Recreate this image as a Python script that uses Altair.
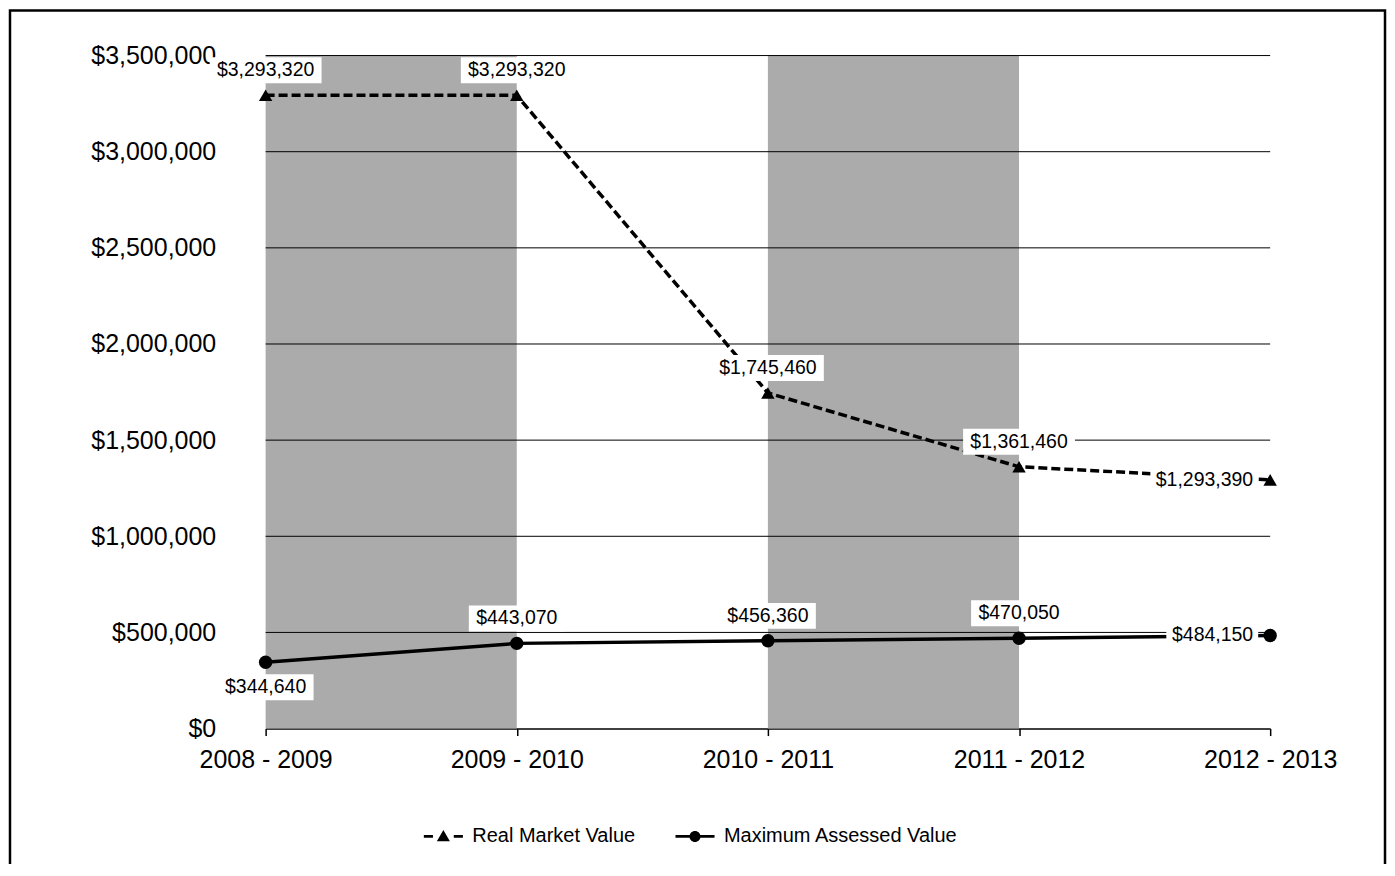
import json
import altair as alt
import pandas as pd

# ---------------- data ----------------
years = ["2008 - 2009", "2009 - 2010", "2010 - 2011", "2011 - 2012", "2012 - 2013"]
real_market = [3293320, 3293320, 1745460, 1361460, 1293390]
max_assessed = [344640, 443070, 456360, 470050, 484150]
y_ticks = [0, 500000, 1000000, 1500000, 2000000, 2500000, 3000000, 3500000]
band_start = [0, 2]
band_end = [1, 3]
series = ["Real Market Value", "Maximum Assessed Value"]

rmv_df = pd.DataFrame({"i": list(range(len(years))), "year": years, "v": real_market})
mav_df = pd.DataFrame({"i": list(range(len(years))), "year": years, "v": max_assessed})
band_df = pd.DataFrame({"s": band_start, "e": band_end,
                        "y0": [y_ticks[0]] * 2, "y1": [y_ticks[-1]] * 2})
grid_df = pd.DataFrame({"t": y_ticks[1:]})
legend_df = pd.DataFrame({"s": series})

# ---------------- style ----------------
W, H = 1006, 674
FONT = "Liberation Sans"
xs = alt.Scale(domain=[0, len(years) - 1], nice=False, zero=False)
ys = alt.Scale(domain=[y_ticks[0], y_ticks[-1]], nice=False)
label_expr = json.dumps(years) + "[datum.value]"

x_axis = alt.Axis(
    values=list(range(len(years))), labelExpr=label_expr, title=None, grid=False,
    labelFont=FONT, labelFontSize=25, labelColor="black", labelPadding=12,
    labelFlush=False, labelOverlap=False, labelBound=False,
    domainColor="black", domainWidth=1.5, tickColor="black", tickWidth=1.5, tickSize=7)
y_axis = alt.Axis(
    values=y_ticks, format="$,.0f", title=None, grid=False, domain=False, ticks=False,
    labelFont=FONT, labelFontSize=25, labelColor="black", labelPadding=50,
    labelOverlap=False, labelFlush=False)


def X(f):
    return alt.X(f, scale=xs, axis=x_axis)


def Y(f):
    return alt.Y(f, scale=ys, axis=y_axis)


bands = alt.Chart(band_df).mark_rect(color="#ababab").encode(
    x=X("s:Q"), x2="e:Q", y=Y("y0:Q"), y2="y1:Q")

grid = alt.Chart(grid_df).mark_rule(color="black", strokeWidth=1).encode(y=Y("t:Q"))


def enc():
    return dict(x=X("i:Q"), y=Y("v:Q"))


rmv_line = alt.Chart(rmv_df).mark_line(color="black", strokeWidth=3.5, strokeDash=[9, 4]).encode(**enc())
mav_line = alt.Chart(mav_df).mark_line(color="black", strokeWidth=3.5).encode(**enc())
rmv_pts = alt.Chart(rmv_df).mark_point(shape="triangle-up", filled=True, size=180,
                                       color="black", opacity=1).encode(**enc())
mav_pts = alt.Chart(mav_df).mark_point(shape="circle", filled=True, size=180,
                                       color="black", opacity=1).encode(**enc())


def labels(df, filt, box, dx, dy, align):
    bx1, bx2, by1, by2 = box
    base = alt.Chart(df).transform_filter(filt)
    b = base.mark_rect(color="white", xOffset=bx1, x2Offset=bx2,
                       yOffset=by1, y2Offset=by2).encode(
        x=X("i:Q"), x2="i:Q", y=Y("v:Q"), y2="v:Q")
    t = base.mark_text(font=FONT, fontSize=19.5, color="black", dx=dx, dy=dy,
                       align=align, baseline="middle").encode(
        **enc(), text=alt.Text("v:Q", format="$,.0f"))
    return [b, t]


lab_layers = []
lab_layers += labels(rmv_df, "datum.i < 4", (-56, 56, -38, -12), 0, -25, "center")
lab_layers += labels(rmv_df, "datum.i == 4", (-120, -12, -13, 13), -17, 0, "right")
lab_layers += labels(mav_df, "datum.i == 0", (-48, 48, 12, 38), 0, 25, "center")
lab_layers += labels(mav_df, "datum.i > 0 && datum.i < 4", (-48, 48, -38, -12), 0, -25, "center")
lab_layers += labels(mav_df, "datum.i == 4", (-104, -12, -13, 13), -17, 0, "right")

# legend glyphs: line pieces drawn as thin filled bars, plus the marker
rmv_sym = ("M-3.0,-0.22H-1.6V0.22H-3.0Z M1.6,-0.22H3.0V0.22H1.6Z "
           "M0,-1L1,0.75L-1,0.75Z")
mav_sym = ("M-3.0,-0.22H-0.8V0.22H-3.0Z M0.8,-0.22H3.0V0.22H0.8Z "
           "M0.85,0A0.85,0.85,0,1,1,-0.85,0A0.85,0.85,0,1,1,0.85,0Z")

legend_layer = alt.Chart(legend_df).mark_point(
    filled=True, clip=True, size=170, color="black", opacity=1
).encode(
    x=alt.XDatum(0, scale=xs, axis=x_axis),
    y=alt.YDatum(-10000000, scale=ys, axis=y_axis),
    shape=alt.Shape("s:N", scale=alt.Scale(domain=series, range=[rmv_sym, mav_sym]),
                    legend=alt.Legend(
                        orient="none", legendX=168, legendY=772, direction="horizontal",
                        title=None, labelFont=FONT, labelFontSize=20, labelColor="black",
                        labelLimit=600, symbolSize=170, labelOffset=19, columnPadding=36)),
)

border = alt.Chart(pd.DataFrame({"a": [0]})).mark_rect(
    fill="transparent", stroke="black", strokeWidth=2.5
).encode(x=alt.value(-256), x2=alt.value(1121), y=alt.value(-45), y2=alt.value(830))

chart = alt.layer(
    bands, grid, rmv_line, mav_line, *lab_layers, rmv_pts, mav_pts, legend_layer, border
).properties(
    width=W, height=H,
    autosize=alt.AutoSizeParams(type="none"),
    padding={"left": 258, "top": 47, "right": 117, "bottom": 135},
    background="white",
).configure_view(stroke=None)

chart.save("out.html", embed_options={"renderer": "svg", "actions": False})
